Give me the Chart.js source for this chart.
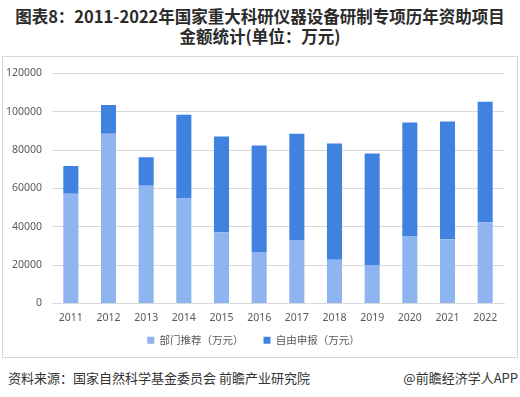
<!DOCTYPE html>
<html>
<head>
<meta charset="utf-8">
<script src="https://cdn.jsdelivr.net/npm/chart.js@4"></script>
<style>
  body { margin: 0; width: 520px; height: 397px; background: #fff; position: relative; overflow: hidden;
         font-family: "Noto Sans CJK SC", "Noto Sans", sans-serif; }
  #title { position: absolute; left: 0; top: 6px; width: 520px; text-align: center;
           font-size: 16.5px; font-weight: bold; line-height: 20px; color: #2b2b2b; }
  #box { position: absolute; left: 2px; top: 56px; width: 514px; height: 300px; border: 1px solid #d9d9d9; }
  #source { position: absolute; left: 8px; top: 368px; font-size: 13px; color: #333; }
  #app { position: absolute; right: 2px; top: 368px; font-size: 13px; color: #333; }
</style>
</head>
<body>
<div id="title">图表8：2011-2022年国家重大科研仪器设备研制专项历年资助项目<br>金额统计(单位：万元)</div>
<div id="box"><canvas id="chart" width="514" height="300"></canvas></div>
<div id="source">资料来源：国家自然科学基金委员会 前瞻产业研究院</div>
<div id="app">@前瞻经济学人APP</div>
<script>
const ctx = document.getElementById('chart');

var years = ['2011', '2012', '2013', '2014', '2015', '2016', '2017', '2018', '2019', '2020', '2021', '2022'];
var deptValues = [57200, 88500, 61400, 54700, 37100, 26800, 33000, 22700, 20000, 34900, 33400, 42300];
var selfValues = [14500, 15000, 14800, 43700, 49900, 55500, 55500, 60700, 58200, 59500, 61500, 62900];
var yTicks = [0, 20000, 40000, 60000, 80000, 100000, 120000];

// wide gap between legend items, but keep the legend short in the layout
var legendSqueeze = 15.5;
var legendFix = {
   id : 'legendFix',
   beforeLayout : function (chart) {
      var lg = chart.legend;
      if (lg && !lg._squeezed) {
         var fit = lg.fit;
         lg.fit = function () {
            fit.call(this);
            this.height -= legendSqueeze;
         };
         lg._squeezed = true;
      }
   },
   afterLayout : function (chart) {
      var lg = chart.legend;
      if (lg) {
         lg.top = lg.bottom - 42;
         lg.height = 42;
      }
   }
};

var data = {
   labels : years,
   datasets : [ {
      label : '部门推荐（万元）',
      data : deptValues,
      backgroundColor : '#8fb5f1',
      barPercentage : 0.4,
      categoryPercentage : 1
   }, {
      label : '自由申报（万元）',
      data : selfValues,
      backgroundColor : '#3f82df',
      barPercentage : 0.4,
      categoryPercentage : 1
   } ]
};

var options = {
   responsive : false,
   animation : false,
   layout : {
      padding : { top : 12, right : 13, left : 0, bottom : 0 }
   },
   plugins : {
      legend : {
         position : 'bottom',
         labels : {
            boxWidth : 7,
            boxHeight : 7,
            padding : 20,
            color : '#595959',
            font : { size : 10.5, family : '"Noto Sans CJK SC", sans-serif' }
         }
      },
      tooltip : { enabled : false }
   },
   scales : {
      x : {
         stacked : true,
         grid : { display : false, drawTicks : false },
         border : { color : '#d9d9d9' },
         ticks : { color : '#595959', padding : 8, font : { size : 10.5, family : '"Noto Sans", sans-serif' } }
      },
      y : {
         stacked : true,
         min : 0,
         max : 120000,
         afterFit : function (axis) { axis.width = 49; },
         afterBuildTicks : function (axis) {
            axis.ticks = yTicks.map(function (v) { return { value : v }; });
         },
         grid : { color : '#d9d9d9', drawTicks : false },
         border : { display : false },
         ticks : {
            color : '#595959',
            padding : 10,
            font : { size : 10.5, family : '"Noto Sans", sans-serif' },
            callback : function (v) { return String(v); }
         }
      }
   }
};

new Chart(ctx, {
   type : 'bar',
   data : data,
   options : options,
   plugins : [ legendFix ]
});
</script>
</body>
</html>
